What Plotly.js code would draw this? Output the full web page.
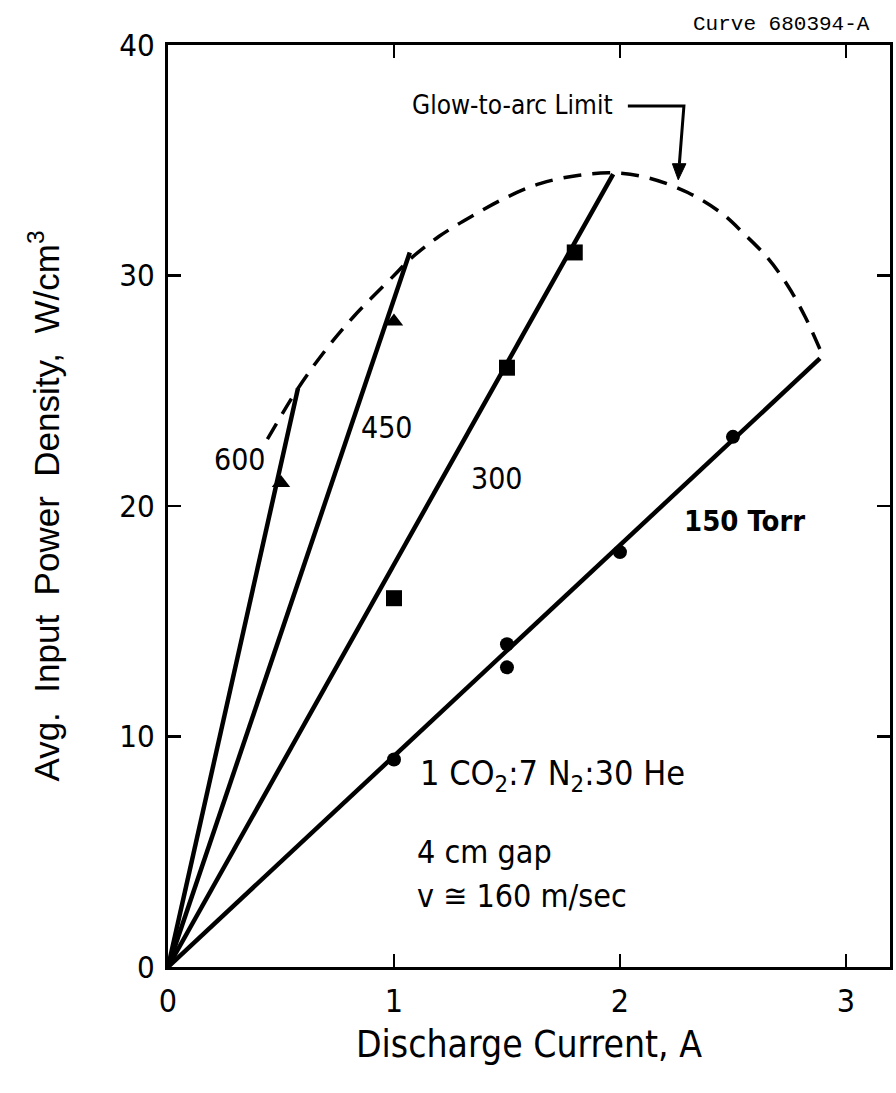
<!DOCTYPE html>
<html>
<head>
<meta charset="utf-8">
<script src="https://cdn.plot.ly/plotly-3.0.1.min.js"></script>
<style>html,body{margin:0;padding:0;background:#fff;}#chart{width:896px;height:1093px;}</style>
</head>
<body>
<div id="chart"></div>
<script>
// Measured points (Discharge current A, power density W/cm^3)
const p600_x = [0.5];
const p600_y = [21];
const p450_x = [1.0];
const p450_y = [28];
const p300_x = [1.0, 1.5, 1.8];
const p300_y = [16, 26, 31];
const p150_x = [1.0, 1.5, 1.5, 2.0, 2.5];
const p150_y = [9, 14, 13, 18, 23];

// Fitted straight lines from origin
const line600_x = [0, 0.575];
const line600_y = [0, 25.1];
const line450_x = [0, 1.07];
const line450_y = [0, 31.0];
const line300_x = [0, 1.97];
const line300_y = [0, 34.4];
const line150_x = [0, 2.885];
const line150_y = [0, 26.4];

// Glow-to-arc limit (dashed)
const limit_x = [0.44, 0.575, 0.7, 0.82, 1.0, 1.07, 1.2, 1.35, 1.5, 1.65, 1.82, 1.97, 2.12, 2.3, 2.45, 2.55, 2.65, 2.74, 2.82, 2.885];
const limit_y = [22.9, 25.1, 26.8, 28.2, 30.0, 30.7, 31.7, 32.6, 33.4, 34.0, 34.35, 34.45, 34.25, 33.6, 32.7, 31.8, 30.8, 29.6, 28.2, 26.8];

// Tick labels
const xTicks = [0, 1, 2, 3];
const yTicks = [0, 10, 20, 30, 40];

const NARROW = '"DejaVu Sans Condensed", "Liberation Sans Narrow", sans-serif';
const lineStyle = {color: '#000', width: 4.5};

const traces = [
  {x: limit_x, y: limit_y, mode: 'lines', line: {color: '#000', width: 3.5, dash: '18px,11px', shape: 'spline', smoothing: 1}, hoverinfo: 'skip'},
  {x: line600_x, y: line600_y, mode: 'lines', line: lineStyle},
  {x: line450_x, y: line450_y, mode: 'lines', line: lineStyle},
  {x: line300_x, y: line300_y, mode: 'lines', line: lineStyle},
  {x: line150_x, y: line150_y, mode: 'lines', line: lineStyle},
  {x: p600_x, y: p600_y, mode: 'markers', marker: {symbol: 'triangle-up', size: 16, color: '#000'}},
  {x: p450_x, y: p450_y, mode: 'markers', marker: {symbol: 'triangle-up', size: 16, color: '#000'}},
  {x: p300_x, y: p300_y, mode: 'markers', marker: {symbol: 'square', size: 16, color: '#000'}},
  {x: p150_x, y: p150_y, mode: 'markers', marker: {symbol: 'circle', size: 14, color: '#000'}}
];

const ann = (x, y, text, size, opts) => Object.assign({x: x, y: y, text: text, showarrow: false,
  xanchor: 'center', yanchor: 'middle',
  font: {family: NARROW, size: size, color: '#000'}}, opts || {});

const layout = {
  width: 896, height: 1093,
  margin: {l: 168, r: 6, t: 45, b: 126},
  paper_bgcolor: '#fff', plot_bgcolor: '#fff',
  showlegend: false,
  font: {family: NARROW, color: '#000'},
  xaxis: {
    range: [0, 3.195], tickvals: xTicks, ticktext: xTicks.map(String),
    showgrid: false, zeroline: false, showline: true, linecolor: '#000', linewidth: 3,
    mirror: 'ticks', ticks: 'inside', ticklen: 13, tickwidth: 2.5, tickcolor: '#000',
    tickfont: {family: NARROW, size: 32, color: '#000'}, ticklabelstandoff: 4,
    title: {text: 'Discharge Current, A', font: {family: NARROW, size: 37, color: '#000'}, standoff: 12}
  },
  yaxis: {
    range: [0, 40], tickvals: yTicks, ticktext: yTicks.map(String),
    showgrid: false, zeroline: false, showline: true, linecolor: '#000', linewidth: 3,
    mirror: 'ticks', ticks: 'inside', ticklen: 13, tickwidth: 2.5, tickcolor: '#000',
    tickfont: {family: NARROW, size: 31, color: '#000'}, ticklabelstandoff: 4,
    title: {text: 'Avg.  Input  Power  Density,  W/cm<sup>3</sup>', font: {family: '"Liberation Sans", Arial, sans-serif', size: 35, color: '#000'}, standoff: 50}
  },
  annotations: [
    ann(0, 0, 'Curve 680394-A', 22, {xref: 'paper', yref: 'paper', x: (872 - 168) / 722, y: (967 - 25) / 922, xanchor: 'right',
      font: {family: '"Liberation Mono", "DejaVu Sans Mono", monospace', size: 21, color: '#000'}}),
    ann(1.978, 37.4, 'Glow-to-arc Limit', 26, {xanchor: 'right'}),
    ann(0.319, 22.0, '600', 30),
    ann(0.97, 23.4, '450', 30),
    ann(1.456, 21.2, '300', 30),
    ann(2.551, 19.35, '<b>150 Torr</b>', 29),
    ann(1.106, 8.3, '1 CO<sub>2</sub>:7 N<sub>2</sub>:30 He', 34, {xanchor: 'left'}),
    ann(1.095, 5.0, '4 cm gap', 32, {xanchor: 'left'}),
    ann(1.095, 3.1, 'v \u2245 160 m/sec', 32, {xanchor: 'left'})
  ],
  shapes: [
    {type: 'path', xref: 'x', yref: 'y', path: 'M 2.035 37.35 L 2.283 37.35 L 2.263 34.85',
      line: {color: '#000', width: 3}},
    {type: 'path', xref: 'x', yref: 'y', path: 'M 2.232 34.85 L 2.292 34.85 L 2.258 34.15 Z',
      fillcolor: '#000', line: {color: '#000', width: 1}}
  ]
};

Plotly.newPlot('chart', traces, layout, {staticPlot: true, displayModeBar: false});
</script>
</body>
</html>
